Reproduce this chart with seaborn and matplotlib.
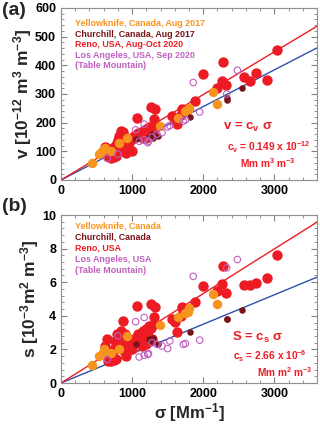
import numpy as np
import pandas as pd
import matplotlib
matplotlib.use("Agg")
import matplotlib.pyplot as plt
import seaborn as sns
from matplotlib.ticker import MultipleLocator

# ---- data (sigma in Mm-1, v in 1e-12 m3 m-3, s in 1e-3 m2 m-3)
reno_sigma = [3040, 2280, 1990, 2745, 2895, 2570, 2660, 2265, 2320, 2190, 1890, 1700, 1720,
              1690, 1560, 1600, 1630, 1270, 1320, 1070, 1310, 870, 1240, 1200, 1150, 1100,
              1180, 1270, 1310, 1120, 1160, 1230, 1020, 980, 940, 900, 880, 860, 830, 820,
              800, 790, 760, 740, 720, 700, 680, 660, 640, 620, 860, 880, 900, 950, 1000,
              920, 780, 740, 700, 810, 850, 1080, 1140, 1200, 1280]
reno_v = [452, 411, 370, 373, 350, 360, 344, 345, 333, 320, 276, 246, 238,
          225, 222, 205, 195, 254, 247, 215, 212, 168, 185, 178, 170, 165,
          160, 175, 180, 150, 145, 175, 155, 140, 130, 150, 140, 160, 150, 125,
          140, 130, 120, 110, 100, 95, 90, 85, 110, 115, 110, 100, 120, 110, 100,
          95, 85, 80, 75, 155, 170, 165, 155, 145, 165]
reno_s = [7.6, 6.97, 5.76, 5.97, 6.25, 5.82, 5.82, 5.9, 5.38, 5.5, 4.8, 4.55, 4.35,
          4.0, 3.83, 3.65, 3.05, 4.68, 4.54, 4.6, 3.9, 3.7, 3.4, 3.2, 3.1, 2.7,
          2.9, 3.3, 3.5, 2.5, 2.4, 3.1, 2.6, 2.5, 2.4, 2.9, 2.6, 3.0, 2.8, 2.3,
          2.6, 2.9, 2.5, 2.0, 1.8, 1.5, 1.4, 1.3, 2.6, 2.2, 2.1, 1.9, 2.3, 2.2, 2.0,
          1.6, 1.4, 1.35, 1.3, 2.5, 3.1, 2.9, 2.2, 2.3, 2.6]

yk_sigma = [440, 540, 580, 600, 620, 820, 930, 1390, 1650, 1740, 1780, 1800, 2140, 2200, 700]
yk_v = [60, 90, 100, 108, 110, 130, 145, 190, 215, 240, 245, 250, 308, 265, 100]
yk_s = [1.08, 1.6, 1.75, 2.0, 1.9, 2.0, 2.8, 3.45, 3.9, 4.15, 4.25, 4.45, 5.3, 4.7, 1.8]

ch_sigma = [2330, 2330, 2540, 1820, 1370, 1050, 1240, 1280, 1300]
ch_v = [285, 278, 320, 220, 155, 143, 150, 160, 145]
ch_s = [3.8, 3.8, 4.35, 3.05, 2.35, 2.3, 2.6, 2.5, 2.7]

la_sigma = [2480, 1860, 2330, 1950, 1720, 1750, 1500, 1530, 1420, 1230, 1170, 1050, 1100,
            1220, 650, 800, 1170, 1280, 1350]
la_v = [383, 340, 300, 237, 205, 210, 185, 190, 165, 135, 195, 175, 135,
        130, 75, 90, 140, 150, 160]
la_s = [7.35, 6.35, 6.85, 2.55, 2.3, 2.35, 2.05, 2.5, 2.2, 1.75, 3.9, 3.65, 1.55,
        1.7, 1.4, 2.8, 1.65, 2.4, 2.3]

cv, cv_blue = 0.149, 0.128
cs, cs_blue = 2.66e-3, 1.75e-3

red = "#ed1c24"
orange = "#f7941d"
maroon = "#7a1418"
violet = "#c060c0"
blue = "#2e50a8"

sns.set_style("ticks")
plt.rcParams["font.family"] = ["Liberation Sans", "DejaVu Sans"]
plt.rcParams["font.weight"] = "bold"
plt.rcParams["axes.labelweight"] = "bold"
plt.rcParams["mathtext.fontset"] = "custom"
plt.rcParams["mathtext.rm"] = "Liberation Sans:bold"
plt.rcParams["mathtext.it"] = "Liberation Sans:bold"
plt.rcParams["mathtext.bf"] = "Liberation Sans:bold"

fig = plt.figure(figsize=(3.2, 4.26), dpi=100)
ax1 = fig.add_axes([0.1906, 0.5775, 0.8, 0.4038])
ax2 = fig.add_axes([0.1906, 0.1009, 0.8, 0.3944])

groups = [
    (reno_sigma, reno_v, reno_s, red, red, 56, 0),
    (yk_sigma, yk_v, yk_s, orange, orange, 46, 0),
    (ch_sigma, ch_v, ch_s, maroon, maroon, 22, 0),
    (la_sigma, la_v, la_s, "none", violet, 22, 0.8),
]

xl = np.array([0, 3600])
for ax, idx, c_red, c_blue in [(ax1, 1, cv, cv_blue), (ax2, 2, cs, cs_blue)]:
    ax.plot(xl, c_blue * xl, color=blue, lw=1.0, zorder=1)
    ax.plot(xl, c_red * xl, color=red, lw=1.0, zorder=1)
    for g in groups:
        df = pd.DataFrame({"sigma": g[0], "y": g[idx]})
        sns.scatterplot(data=df, x="sigma", y="y", ax=ax, fc=g[3], ec=g[4],
                        s=g[5], linewidth=g[6], zorder=3, legend=False)
    ax.set_xlim(0, 3600)
    ax.xaxis.set_major_locator(MultipleLocator(1000))
    ax.xaxis.set_minor_locator(MultipleLocator(200))
    ax.tick_params(which="both", direction="in", top=True, right=True, colors="#808080",
                   labelcolor="black", labelsize=9)
    ax.tick_params(which="major", length=4, width=0.8)
    ax.tick_params(which="minor", length=2, width=0.6)
    for sp in ax.spines.values():
        sp.set_color("#909090")
        sp.set_linewidth(0.8)
    ax.set_xlabel("")

ax1.set_ylim(0, 600)
ax1.yaxis.set_major_locator(MultipleLocator(100))
ax1.yaxis.set_minor_locator(MultipleLocator(20))
ax1.set_ylabel("v [10$^{-12}$ m$^{3}$ m$^{-3}$]", fontsize=12.5, labelpad=1)

ax2.set_ylim(0, 10)
ax2.yaxis.set_major_locator(MultipleLocator(2))
ax2.yaxis.set_minor_locator(MultipleLocator(0.4))
ax2.set_ylabel("s [10$^{-3}$m$^{2}$ m$^{-3}$]", fontsize=12.5, labelpad=1)
ax2.set_xlabel("σ [Mm$^{-1}$]", fontsize=12, labelpad=1)

labels_a = ["Yellowknife, Canada, Aug 2017", "Churchill, Canada, Aug 2017",
            "Reno, USA, Aug-Oct 2020", "Los Angeles, USA, Sep 2020", "(Table Mountain)"]
labels_b = ["Yellowknife, Canada", "Churchill, Canada", "Reno, USA",
            "Los Angeles, USA", "(Table Mountain)"]
label_colors = [orange, maroon, red, violet, violet]

for i, (t, c) in enumerate(zip(labels_a, label_colors)):
    ax1.text(0.055, 0.907 - i * 0.061, t, color=c, fontsize=6.4, va="center",
             transform=ax1.transAxes)
for i, (t, c) in enumerate(zip(labels_b, label_colors)):
    ax2.text(0.055, 0.935 - i * 0.067, t, color=c, fontsize=6.4, va="center",
             transform=ax2.transAxes)

ax1.text(0.633, 0.308, "v = c$_{v}$ σ", color=red, fontsize=9.5, va="center", transform=ax1.transAxes)
ax1.text(0.648, 0.192, "c$_{v}$ = 0.149 x 10$^{-12}$", color=red, fontsize=7.3, va="center",
         transform=ax1.transAxes)
ax1.text(0.70, 0.099, "Mm m$^{3}$ m$^{-3}$", color=red, fontsize=7.3, va="center",
         transform=ax1.transAxes)

ax2.text(0.668, 0.274, "S = c$_{s}$ σ", color=red, fontsize=9.5, va="center", transform=ax2.transAxes)
ax2.text(0.672, 0.161, "c$_{s}$ = 2.66 x 10$^{-6}$", color=red, fontsize=7.3, va="center",
         transform=ax2.transAxes)
ax2.text(0.766, 0.065, "Mm m$^{2}$ m$^{-3}$", color=red, fontsize=7.3, va="center",
         transform=ax2.transAxes)

fig.text(0.005, 0.995, "(a)", fontsize=14, va="top", ha="left")
fig.text(0.005, 0.535, "(b)", fontsize=14, va="top", ha="left")

fig.savefig("out.png", dpi=100)
